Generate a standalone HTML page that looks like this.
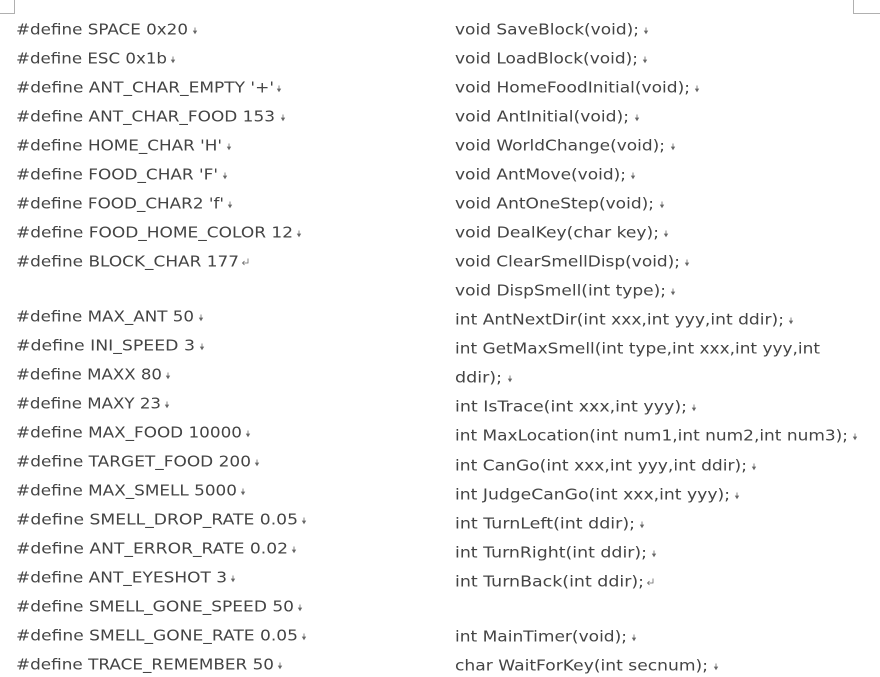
<!DOCTYPE html>
<html><head><meta charset="utf-8"><style>
html,body{margin:0;padding:0;background:#fff;width:880px;height:677px;overflow:hidden}
svg{display:block}
text{font-family:"DejaVu Sans",sans-serif;font-size:15.5px;fill:#444;white-space:pre}
</style></head><body>
<svg width="880" height="677" viewBox="0 0 880 677" xmlns="http://www.w3.org/2000/svg">
<path d="M0 13.5H14.5V0M880 13.5H853.5V0" fill="none" stroke="#b0b0b0"/>
<g transform="translate(0,-0.5)">
<text x="16" y="35" textLength="172" lengthAdjust="spacingAndGlyphs">#define SPACE 0x20</text>
<text x="16" y="64" textLength="151" lengthAdjust="spacingAndGlyphs">#define ESC 0x1b</text>
<text x="16" y="93" textLength="258" lengthAdjust="spacingAndGlyphs">#define ANT_CHAR_EMPTY '+'</text>
<text x="16" y="122" textLength="259" lengthAdjust="spacingAndGlyphs">#define ANT_CHAR_FOOD 153</text>
<text x="16" y="151" textLength="206" lengthAdjust="spacingAndGlyphs">#define HOME_CHAR 'H'</text>
<text x="16" y="180" textLength="202" lengthAdjust="spacingAndGlyphs">#define FOOD_CHAR 'F'</text>
<text x="16" y="209" textLength="208" lengthAdjust="spacingAndGlyphs">#define FOOD_CHAR2 'f'</text>
<text x="16" y="238" textLength="277" lengthAdjust="spacingAndGlyphs">#define FOOD_HOME_COLOR 12</text>
<text x="16" y="267" textLength="223" lengthAdjust="spacingAndGlyphs">#define BLOCK_CHAR 177</text>
<text x="16" y="322" textLength="178" lengthAdjust="spacingAndGlyphs">#define MAX_ANT 50</text>
<text x="16" y="351" textLength="179" lengthAdjust="spacingAndGlyphs">#define INI_SPEED 3</text>
<text x="16" y="380" textLength="146" lengthAdjust="spacingAndGlyphs">#define MAXX 80</text>
<text x="16" y="409" textLength="145" lengthAdjust="spacingAndGlyphs">#define MAXY 23</text>
<text x="16" y="438" textLength="226" lengthAdjust="spacingAndGlyphs">#define MAX_FOOD 10000</text>
<text x="16" y="467" textLength="235" lengthAdjust="spacingAndGlyphs">#define TARGET_FOOD 200</text>
<text x="16" y="496" textLength="221" lengthAdjust="spacingAndGlyphs">#define MAX_SMELL 5000</text>
<text x="16" y="525" textLength="282" lengthAdjust="spacingAndGlyphs">#define SMELL_DROP_RATE 0.05</text>
<text x="16" y="554" textLength="272" lengthAdjust="spacingAndGlyphs">#define ANT_ERROR_RATE 0.02</text>
<text x="16" y="583" textLength="211" lengthAdjust="spacingAndGlyphs">#define ANT_EYESHOT 3</text>
<text x="16" y="612" textLength="278" lengthAdjust="spacingAndGlyphs">#define SMELL_GONE_SPEED 50</text>
<text x="16" y="641" textLength="282" lengthAdjust="spacingAndGlyphs">#define SMELL_GONE_RATE 0.05</text>
<text x="16" y="670" textLength="258" lengthAdjust="spacingAndGlyphs">#define TRACE_REMEMBER 50</text>

<text x="455" y="35" textLength="184" lengthAdjust="spacingAndGlyphs">void SaveBlock(void);</text>
<text x="455" y="64" textLength="183" lengthAdjust="spacingAndGlyphs">void LoadBlock(void);</text>
<text x="455" y="93" textLength="235" lengthAdjust="spacingAndGlyphs">void HomeFoodInitial(void);</text>
<text x="455" y="122" textLength="174" lengthAdjust="spacingAndGlyphs">void AntInitial(void);</text>
<text x="455" y="151" textLength="210" lengthAdjust="spacingAndGlyphs">void WorldChange(void);</text>
<text x="455" y="180" textLength="171" lengthAdjust="spacingAndGlyphs">void AntMove(void);</text>
<text x="455" y="209" textLength="199" lengthAdjust="spacingAndGlyphs">void AntOneStep(void);</text>
<text x="455" y="238" textLength="204" lengthAdjust="spacingAndGlyphs">void DealKey(char key);</text>
<text x="455" y="267" textLength="225" lengthAdjust="spacingAndGlyphs">void ClearSmellDisp(void);</text>
<text x="455" y="296" textLength="211" lengthAdjust="spacingAndGlyphs">void DispSmell(int type);</text>
<text x="455" y="325" textLength="329" lengthAdjust="spacingAndGlyphs">int AntNextDir(int xxx,int yyy,int ddir);</text>
<text x="455" y="354" textLength="365" lengthAdjust="spacingAndGlyphs">int GetMaxSmell(int type,int xxx,int yyy,int</text>
<text x="455" y="383" textLength="47" lengthAdjust="spacingAndGlyphs">ddir);</text>
<text x="455" y="412" textLength="232" lengthAdjust="spacingAndGlyphs">int IsTrace(int xxx,int yyy);</text>
<text x="455" y="441" textLength="393" lengthAdjust="spacingAndGlyphs">int MaxLocation(int num1,int num2,int num3);</text>
<text x="455" y="471" textLength="292" lengthAdjust="spacingAndGlyphs">int CanGo(int xxx,int yyy,int ddir);</text>
<text x="455" y="500" textLength="275" lengthAdjust="spacingAndGlyphs">int JudgeCanGo(int xxx,int yyy);</text>
<text x="455" y="529" textLength="180" lengthAdjust="spacingAndGlyphs">int TurnLeft(int ddir);</text>
<text x="455" y="558" textLength="192" lengthAdjust="spacingAndGlyphs">int TurnRight(int ddir);</text>
<text x="455" y="587" textLength="189" lengthAdjust="spacingAndGlyphs">int TurnBack(int ddir);</text>
<text x="455" y="642" textLength="172" lengthAdjust="spacingAndGlyphs">int MainTimer(void);</text>
<text x="455" y="671" textLength="253" lengthAdjust="spacingAndGlyphs">char WaitForKey(int secnum);</text>
</g>
<g fill="#666" stroke="#666" stroke-width=".8" transform="translate(-0.5,0.5)">
<path d="M195.5 27v5M194 30.5l1.5 2.5 1.5-2.5z"/>
<path d="M173.5 56v5M172 59.5l1.5 2.5 1.5-2.5z"/>
<path d="M279.5 85v5M278 88.5l1.5 2.5 1.5-2.5z"/>
<path d="M283.5 114v5M282 117.5l1.5 2.5 1.5-2.5z"/>
<path d="M229.5 143v5M228 146.5l1.5 2.5 1.5-2.5z"/>
<path d="M225.5 172v5M224 175.5l1.5 2.5 1.5-2.5z"/>
<path d="M230.5 201v5M229 204.5l1.5 2.5 1.5-2.5z"/>
<path d="M299.5 230v5M298 233.5l1.5 2.5 1.5-2.5z"/>
<path d="M201.5 314v5M200 317.5l1.5 2.5 1.5-2.5z"/>
<path d="M202.5 343v5M201 346.5l1.5 2.5 1.5-2.5z"/>
<path d="M168.5 372v5M167 375.5l1.5 2.5 1.5-2.5z"/>
<path d="M167.5 401v5M166 404.5l1.5 2.5 1.5-2.5z"/>
<path d="M248.5 430v5M247 433.5l1.5 2.5 1.5-2.5z"/>
<path d="M257.5 459v5M256 462.5l1.5 2.5 1.5-2.5z"/>
<path d="M243.5 488v5M242 491.5l1.5 2.5 1.5-2.5z"/>
<path d="M304.5 517v5M303 520.5l1.5 2.5 1.5-2.5z"/>
<path d="M294.5 546v5M293 549.5l1.5 2.5 1.5-2.5z"/>
<path d="M233.5 575v5M232 578.5l1.5 2.5 1.5-2.5z"/>
<path d="M300.5 604v5M299 607.5l1.5 2.5 1.5-2.5z"/>
<path d="M304.5 633v5M303 636.5l1.5 2.5 1.5-2.5z"/>
<path d="M280.5 662v5M279 665.5l1.5 2.5 1.5-2.5z"/>
<path d="M646.5 27v5M645 30.5l1.5 2.5 1.5-2.5z"/>
<path d="M645.5 56v5M644 59.5l1.5 2.5 1.5-2.5z"/>
<path d="M697.5 85v5M696 88.5l1.5 2.5 1.5-2.5z"/>
<path d="M637.5 114v5M636 117.5l1.5 2.5 1.5-2.5z"/>
<path d="M673.5 143v5M672 146.5l1.5 2.5 1.5-2.5z"/>
<path d="M633.5 172v5M632 175.5l1.5 2.5 1.5-2.5z"/>
<path d="M662.5 201v5M661 204.5l1.5 2.5 1.5-2.5z"/>
<path d="M666.5 230v5M665 233.5l1.5 2.5 1.5-2.5z"/>
<path d="M687.5 259v5M686 262.5l1.5 2.5 1.5-2.5z"/>
<path d="M673.5 288v5M672 291.5l1.5 2.5 1.5-2.5z"/>
<path d="M791.5 317v5M790 320.5l1.5 2.5 1.5-2.5z"/>
<path d="M510.5 375v5M509 378.5l1.5 2.5 1.5-2.5z"/>
<path d="M694.5 404v5M693 407.5l1.5 2.5 1.5-2.5z"/>
<path d="M855.5 433v5M854 436.5l1.5 2.5 1.5-2.5z"/>
<path d="M754.5 463v5M753 466.5l1.5 2.5 1.5-2.5z"/>
<path d="M737.5 492v5M736 495.5l1.5 2.5 1.5-2.5z"/>
<path d="M642.5 521v5M641 524.5l1.5 2.5 1.5-2.5z"/>
<path d="M654.5 550v5M653 553.5l1.5 2.5 1.5-2.5z"/>
<path d="M634.5 634v5M633 637.5l1.5 2.5 1.5-2.5z"/>
<path d="M716.5 663v5M715 666.5l1.5 2.5 1.5-2.5z"/>
<path fill="none" d="M248.5 258v4.5H243M245 260.5l-2 2 2 2"/>
<path fill="none" d="M653.5 578v4.5H648M650 580.5l-2 2 2 2"/>
</g>
</svg>
</body></html>
